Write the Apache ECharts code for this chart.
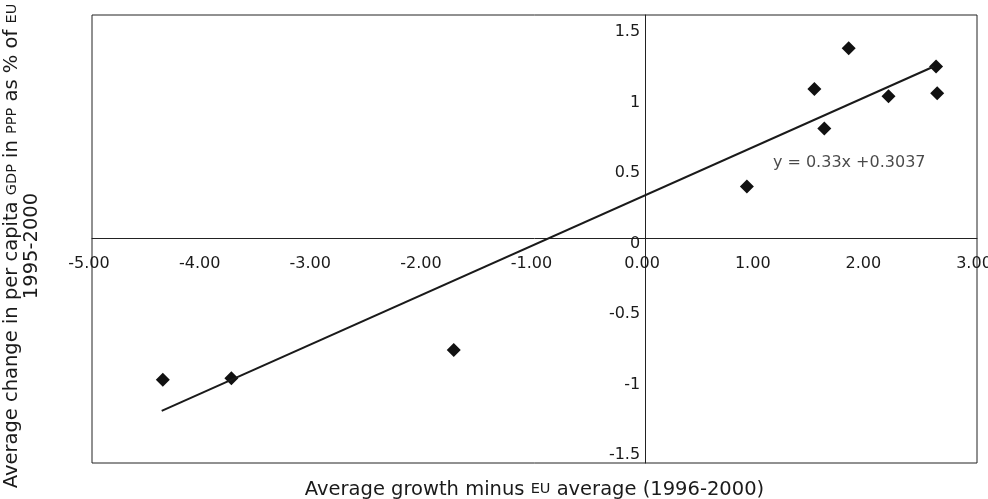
<!DOCTYPE html>
<html>
<head>
<meta charset="utf-8">
<script src="https://cdn.jsdelivr.net/npm/echarts@6/dist/echarts.min.js"></script>
<style>
html,body{margin:0;padding:0;background:#fff;}
#chart{width:988px;height:499px;}
</style>
</head>
<body>
<div id="chart"></div>
<script>
// Data
var growthDiff = [-4.36, -3.74, -1.73, 0.92, 1.53, 1.62, 1.84, 2.20, 2.63, 2.64];
var gdpChange  = [-1.00, -0.99, -0.79, 0.37, 1.06, 0.78, 1.35, 1.01, 1.22, 1.03];
var trendX = [-4.37, 2.61];
var trendY = [-1.22, 1.22];
var yTickValues = [-1.5, -1, -0.5, 0, 0.5, 1, 1.5];
var equationText = 'y = 0.33x +0.3037';
var equationPos = [1.155, 0.534];

var FONT = 'DejaVu Sans';
var TXT = '#1a1a1a';
var GRID = {left: 92, right: 11, top: 15, bottom: 36};

var points = growthDiff.map(function (x, i) { return [x, gdpChange[i]]; });
var trend = trendX.map(function (x, i) { return [x, trendY[i]]; });

var chart = echarts.init(document.getElementById('chart'), null, {renderer: 'canvas'});
chart.setOption({
  backgroundColor: '#fff',
  animation: false,
  grid: {left: GRID.left, right: GRID.right, top: GRID.top, bottom: GRID.bottom, show: true,
    borderColor: '#222', borderWidth: 1, backgroundColor: 'transparent',
    containLabel: false, outerBoundsMode: 'none'},
  xAxis: {
    type: 'value', min: -5, max: 3, interval: 1, position: 'bottom', offset: 0,
    splitLine: {show: false},
    axisLine: {show: true, onZero: false, lineStyle: {color: '#222', width: 1}},
    axisTick: {show: false},
    axisLabel: {
      color: TXT, fontFamily: FONT, fontSize: 16, margin: 17, padding: [0, 6, 0, 0],
      formatter: function (v) { return v.toFixed(2); }
    },
    name: 'Average growth minus {s|EU} average (1996-2000)',
    nameLocation: 'middle', nameGap: 241,
    nameTextStyle: {color: TXT, fontFamily: FONT, fontSize: 19.5,
      rich: {s: {fontFamily: FONT, fontSize: 14.5, color: TXT}}}
  },
  yAxis: {
    type: 'value', min: -1.59, max: 1.585, position: 'left', offset: 0,
    splitLine: {show: false},
    axisLine: {show: true, onZero: false, lineStyle: {color: '#222', width: 1}},
    axisTick: {show: false, customValues: yTickValues},
    axisLabel: {
      color: TXT, fontFamily: FONT, fontSize: 16, margin: 5,
      verticalAlign: 'top', lineHeight: 10,
      customValues: yTickValues
    },
    name: 'Average change in per capita {s|GDP} in {s|PPP} as % of {s|EU}\n1995-2000',
    nameLocation: 'middle', nameRotate: 90, nameGap: 603,
    nameTextStyle: {color: TXT, fontFamily: FONT, fontSize: 19.5, lineHeight: 20, align: 'center',
      padding: [0, 14, 0, 0],
      rich: {s: {fontFamily: FONT, fontSize: 14.5, color: TXT, lineHeight: 20}}}
  },
  series: [
    {
      type: 'line', data: trend, symbol: 'none', silent: true,
      lineStyle: {color: '#1a1a1a', width: 2}
    },
    {
      type: 'scatter', data: points, symbol: 'diamond', symbolSize: [14, 14],
      itemStyle: {color: '#111', opacity: 1}
    },
    {
      type: 'scatter', data: [equationPos], symbolSize: 0, silent: true,
      label: {show: true, position: 'right', distance: 0, formatter: equationText,
        color: TXT, fontFamily: FONT, fontSize: 16}
    }
  ]
});
// Move both axes onto the origin (where the value 0 sits on the other axis)
var origin = chart.convertToPixel({gridIndex: 0}, [0, 0]);
var H = chart.getHeight();
chart.setOption({
  xAxis: {offset: -((H - GRID.bottom) - origin[1])},
  yAxis: {offset: -(origin[0] - GRID.left)}
});
</script>
</body>
</html>
